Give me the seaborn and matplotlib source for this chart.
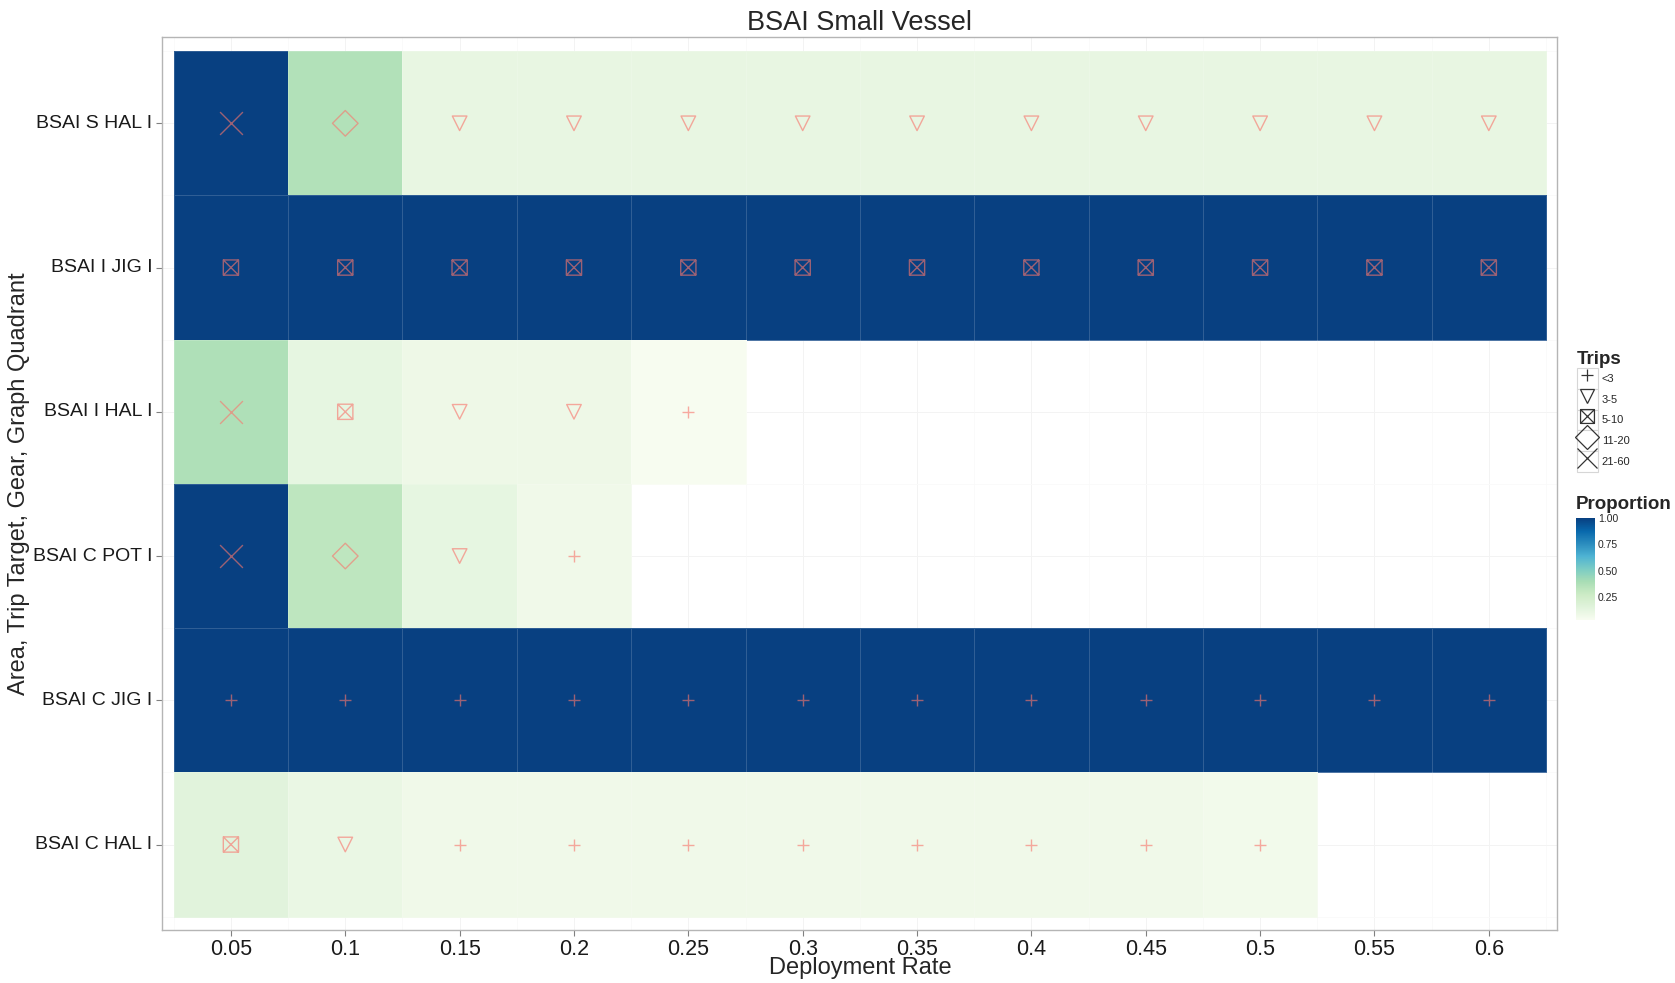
import numpy as np
import pandas as pd
import matplotlib
matplotlib.use("Agg")
import matplotlib.pyplot as plt
from matplotlib.path import Path
from matplotlib.lines import Line2D
from matplotlib.patches import Rectangle
from matplotlib.legend_handler import HandlerTuple
import seaborn as sns

# deployment rates (columns) and strata (rows, top to bottom)
rates = [0.05, 0.1, 0.15, 0.2, 0.25, 0.3, 0.35, 0.4, 0.45, 0.5, 0.55, 0.6]
rate_labels = ["0.05", "0.1", "0.15", "0.2", "0.25", "0.3", "0.35", "0.4", "0.45", "0.5", "0.55", "0.6"]
strata = ["BSAI S HAL I", "BSAI I JIG I", "BSAI I HAL I", "BSAI C POT I", "BSAI C JIG I", "BSAI C HAL I"]

# proportion per cell (None = no tile)
prop_s_hal = [1.0, 0.36, 0.11, 0.11, 0.11, 0.11, 0.11, 0.11, 0.11, 0.11, 0.11, 0.11]
prop_i_jig = [1.0, 1.0, 1.0, 1.0, 1.0, 1.0, 1.0, 1.0, 1.0, 1.0, 1.0, 1.0]
prop_i_hal = [0.37, 0.12, 0.08, 0.08, 0.03, None, None, None, None, None, None, None]
prop_c_pot = [1.0, 0.32, 0.12, 0.07, None, None, None, None, None, None, None, None]
prop_c_jig = [1.0, 1.0, 1.0, 1.0, 1.0, 1.0, 1.0, 1.0, 1.0, 1.0, 1.0, 1.0]
prop_c_hal = [0.15, 0.10, 0.07, 0.07, 0.07, 0.07, 0.07, 0.07, 0.07, 0.06, None, None]

# trips class per cell
trips_s_hal = ["21-60", "11-20", "3-5", "3-5", "3-5", "3-5", "3-5", "3-5", "3-5", "3-5", "3-5", "3-5"]
trips_i_jig = ["5-10", "5-10", "5-10", "5-10", "5-10", "5-10", "5-10", "5-10", "5-10", "5-10", "5-10", "5-10"]
trips_i_hal = ["21-60", "5-10", "3-5", "3-5", "<3", None, None, None, None, None, None, None]
trips_c_pot = ["21-60", "11-20", "3-5", "<3", None, None, None, None, None, None, None, None]
trips_c_jig = ["<3", "<3", "<3", "<3", "<3", "<3", "<3", "<3", "<3", "<3", "<3", "<3"]
trips_c_hal = ["5-10", "3-5", "<3", "<3", "<3", "<3", "<3", "<3", "<3", "<3", None, None]

trip_levels = ["<3", "3-5", "5-10", "11-20", "21-60"]

props = [prop_s_hal, prop_i_jig, prop_i_hal, prop_c_pot, prop_c_jig, prop_c_hal]
trips = [trips_s_hal, trips_i_jig, trips_i_hal, trips_c_pot, trips_c_jig, trips_c_hal]

grid = pd.DataFrame([[np.nan if v is None else v for v in p] for p in props],
                    index=strata, columns=rate_labels)

rows = []
for s, tl in zip(strata, trips):
    for r, t in zip(rate_labels, tl):
        if t is not None:
            rows.append({"stratum": s, "rate": r, "trips": t})
pts = pd.DataFrame(rows)
pts["x"] = pts["rate"].map({r: i + 0.5 for i, r in enumerate(rate_labels)})
pts["y"] = pts["stratum"].map({s: i + 0.5 for i, s in enumerate(strata)})

# square with an X inside (ggplot shape 7)
sq_cross = Path(
    [(-1, -1), (1, -1), (1, 1), (-1, 1), (-1, -1), (-1, -1), (1, 1), (-1, 1), (1, -1)],
    [Path.MOVETO, Path.LINETO, Path.LINETO, Path.LINETO, Path.CLOSEPOLY,
     Path.MOVETO, Path.LINETO, Path.MOVETO, Path.LINETO],
)
shape_map = {"<3": "+", "3-5": "v", "5-10": sq_cross, "11-20": "D", "21-60": "x"}
size_map = {"<3": 64, "3-5": 110, "5-10": 120, "11-20": 170, "21-60": 270}
legend_ms = {"<3": 8.5, "3-5": 9.5, "5-10": 10, "11-20": 12.5, "21-60": 15}

sns.set_theme(style="white")
plt.rcParams["font.family"] = ["Liberation Sans", "DejaVu Sans"]

fig = plt.figure(figsize=(16.75, 9.83), dpi=100)
ax = fig.add_axes([0.0969, 0.0543, 0.8329, 0.9077])
cax = fig.add_axes([0.9407, 0.3696, 0.0115, 0.1032])

sns.heatmap(grid, ax=ax, cmap="GnBu", vmin=0.03, vmax=1.0,
            linewidths=0.6, linecolor=(1, 1, 1, 0.16),
            cbar_ax=cax, cbar_kws={"ticks": [0.25, 0.5, 0.75, 1.0], "format": "%.2f"})

salmon = "#F8766D"
for lvl in trip_levels:
    sub = pts[pts["trips"] == lvl]
    if sub.empty:
        continue
    m = shape_map[lvl]
    if lvl in ("<3", "21-60"):
        sns.scatterplot(data=sub, x="x", y="y", marker=m, s=size_map[lvl],
                        color=salmon, alpha=0.62, linewidth=1.0, ax=ax, zorder=3, legend=False)
    else:
        sns.scatterplot(data=sub, x="x", y="y", marker=m, s=size_map[lvl],
                        facecolor="none", edgecolor=salmon, alpha=0.62, linewidth=1.0,
                        ax=ax, zorder=3, legend=False)

ax.set_xlim(-0.1, 12.1)
ax.set_ylim(6.09, -0.096)
ax.set_xticks(np.arange(12) + 0.5)
ax.set_xticklabels(rate_labels, fontsize=15.5, rotation=0, color="#1a1a1a")
ax.set_yticks(np.arange(6) + 0.5)
ax.set_yticklabels(strata, fontsize=14, rotation=0, color="#1a1a1a")
ax.set_xticks(np.arange(13), minor=True)
ax.set_yticks(np.arange(7), minor=True)
ax.grid(True, which="major", color="#f3f3f3", linewidth=0.7)
ax.grid(True, which="minor", color="#f9f9f9", linewidth=0.5)
ax.set_axisbelow(True)
ax.tick_params(which="major", length=4, width=0.8, color="#808080", pad=3, bottom=True, left=True)
ax.tick_params(which="minor", length=0)
for sp in ax.spines.values():
    sp.set_visible(True)
    sp.set_color("#b5b5b5")
    sp.set_linewidth(1.0)

ax.set_xlabel("Deployment Rate", fontsize=17)
ax.xaxis.set_label_coords(0.5, -0.031)
ax.xaxis.label.set_va("top")
ax.set_ylabel("Area, Trip Target, Gear, Graph Quadrant", fontsize=17)
ax.yaxis.set_label_coords(-0.095, 0.5)
ax.set_title("BSAI Small Vessel", fontsize=19.5, pad=5)

# colorbar styling
cax.tick_params(direction="in", length=4, width=1, color="white", labelsize=7.5, pad=2)
cax.yaxis.set_ticks_position("right")
for sp in cax.spines.values():
    sp.set_visible(False)
fig.text(0.9407, 0.487, "Proportion", fontsize=13.5, fontweight="bold", ha="left", va="center")

# Trips legend with boxed keys
handles = []
for lvl in trip_levels:
    box = Rectangle((0, 0), 1, 1, facecolor="white", edgecolor="#d6d6d6", linewidth=0.8)
    mk = Line2D([], [], linestyle="", marker=shape_map[lvl], markersize=legend_ms[lvl],
                markerfacecolor="none", markeredgecolor="#333333", markeredgewidth=0.9)
    handles.append((box, mk))
leg = fig.legend(handles, trip_levels, loc="upper left", bbox_to_anchor=(0.936, 0.652),
                 title="Trips", frameon=False, fontsize=8, labelspacing=0.0,
                 handlelength=1.9, handleheight=2.5, handletextpad=0.35, alignment="left",
                 borderpad=0.3, handler_map={tuple: HandlerTuple(ndivide=1, pad=0)},
                 title_fontproperties={"weight": "bold", "size": 13.5})

fig.savefig("out.png", dpi=100)
